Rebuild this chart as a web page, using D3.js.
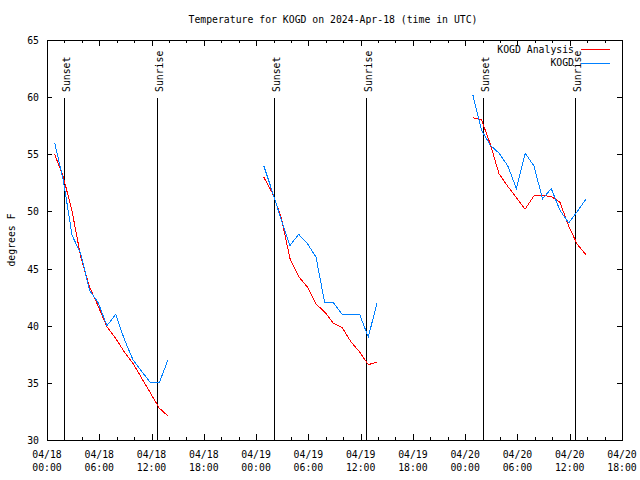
<!DOCTYPE html>
<html><head><meta charset="utf-8">
<script src="https://cdn.jsdelivr.net/npm/d3@7"></script>
<style>body{margin:0;background:#fff}svg{display:block}text{font-family:"DejaVu Sans Mono","Liberation Mono",monospace;font-size:9.8px;fill:#000}</style>
</head><body><svg id="c" width="640" height="480"></svg>
<script>
// hours since 04/18 00:00 UTC
const seg1Times = [0.88,1.88,2.88,3.88,4.88,5.88,6.88,7.88,8.88,9.88,10.88,11.88,12.88,13.88];
const seg2Times = [24.88,25.88,26.88,27.88,28.88,29.88,30.88,31.88,32.88,33.88,34.88,35.88,36.88,37.88];
const seg3Times = [48.88,49.88,50.88,51.88,52.88,53.88,54.88,55.88,56.88,57.88,58.88,59.88,60.88,61.88];
const analysis1 = [55.0,53.0,50.0,46.0,43.4,41.7,39.9,38.9,37.7,36.7,35.4,34.1,32.8,32.1];
const analysis2 = [53.0,51.6,49.5,45.9,44.3,43.4,41.9,41.2,40.2,39.85,38.6,37.7,36.6,36.8];
const analysis3 = [58.2,58.0,55.9,53.3,52.2,51.2,50.2,51.35,51.4,51.3,50.8,48.7,47.1,46.2];
const obs1 = [56.0,52.7,47.9,46.3,43.1,42.0,40.0,41.0,38.8,37.0,36.0,35.0,35.0,37.0];
const obs2 = [54.0,51.7,49.3,47.0,48.0,47.2,46.0,42.0,42.0,41.0,41.0,41.0,39.0,42.0];
const obs3 = [60.2,57.1,55.8,55.1,54.0,52.0,55.1,54.0,51.1,52.0,50.1,49.0,50.0,51.1];
const sunsetTimes = [1.95,26.05,50.07];
const sunriseTimes = [12.65,36.63,60.62];
const xTickHours = [0,6,12,18,24,30,36,42,48,54,60,66];
const xTickLabels = ["04/18\n00:00","04/18\n06:00","04/18\n12:00","04/18\n18:00","04/19\n00:00","04/19\n06:00","04/19\n12:00","04/19\n18:00","04/20\n00:00","04/20\n06:00","04/20\n12:00","04/20\n18:00"];
const yTicks = [30,35,40,45,50,55,60,65];
const titleText = "Temperature for KOGD on 2024-Apr-18 (time in UTC)";
const yLabel = "degrees F";
const seriesNames = ["KOGD Analysis","KOGD"];
const seriesColors = ["#ff0000","#0080ff"];

const L=47,R=622,T=40,B=440;
const svg=d3.select("#c");
const x=d3.scaleLinear().domain([0,66]).range([L,R]);
const y=d3.scaleLinear().domain([30,65]).range([B,T]);

// title & y label
svg.append("text").attr("x",333).attr("y",23).attr("text-anchor","middle").text(titleText);
svg.append("text").attr("transform","translate(15,240) rotate(-90)").attr("text-anchor","middle").text(yLabel);

// ticks
const g=svg.append("g").attr("stroke","#000").attr("stroke-width",1).attr("shape-rendering","crispEdges");
const minor=d3.range(0,67,2).filter(h=>h%6!==0);
xTickHours.forEach(h=>{const px=Math.round(x(h))+0.5;
  g.append("line").attr("x1",px).attr("x2",px).attr("y1",B).attr("y2",B-6);
  g.append("line").attr("x1",px).attr("x2",px).attr("y1",T).attr("y2",T+6);});
minor.forEach(h=>{const px=Math.round(x(h))+0.5;
  g.append("line").attr("x1",px).attr("x2",px).attr("y1",B).attr("y2",B-3);
  g.append("line").attr("x1",px).attr("x2",px).attr("y1",T).attr("y2",T+3);});
yTicks.forEach(v=>{const py=Math.round(y(v))+0.5;
  g.append("line").attr("x1",L).attr("x2",L+5).attr("y1",py).attr("y2",py);
  g.append("line").attr("x1",R).attr("x2",R-5).attr("y1",py).attr("y2",py);
  svg.append("text").attr("x",39).attr("y",py+3.5).attr("text-anchor","end").text(v);});
xTickHours.forEach((h,i)=>{const parts=xTickLabels[i].split("\n");
  const t=svg.append("text").attr("text-anchor","middle");
  t.append("tspan").attr("x",x(h)).attr("y",458).text(parts[0]);
  t.append("tspan").attr("x",x(h)).attr("y",471).text(parts[1]);});

// sun lines
const sun=[...sunsetTimes.map(t=>[t,"Sunset"]),...sunriseTimes.map(t=>[t,"Sunrise"])];
sun.forEach(([t,lab])=>{const px=Math.round(x(t))+0.5;
  g.append("line").attr("x1",px).attr("x2",px).attr("y1",B).attr("y2",y(60)+1);
  svg.append("text").attr("transform",`translate(${px+5.5},92) rotate(-90)`).attr("text-anchor","start").text(lab);});

// series
const line=d3.line().x(d=>x(d[0])).y(d=>y(d[1]));
const ana=[[seg1Times,analysis1],[seg2Times,analysis2],[seg3Times,analysis3]];
const obs=[[seg1Times,obs1],[seg2Times,obs2],[seg3Times,obs3]];
ana.forEach(([ts,vs])=>svg.append("path").attr("d",line(ts.map((t,i)=>[t,vs[i]]))).attr("shape-rendering","crispEdges").style("fill","none").style("stroke",seriesColors[0]).style("stroke-width","1px"));
obs.forEach(([ts,vs])=>svg.append("path").attr("d",line(ts.map((t,i)=>[t,vs[i]]))).attr("shape-rendering","crispEdges").style("fill","none").style("stroke",seriesColors[1]).style("stroke-width","1px"));

// border
svg.append("rect").attr("x",L+0.5).attr("y",T+0.5).attr("width",R-L).attr("height",B-T).style("fill","none").style("stroke","#000").attr("shape-rendering","crispEdges");

// legend
const lg=svg.append("g");
seriesNames.forEach((n,i)=>{const ly=49+i*13.5;
  lg.append("text").attr("x",574).attr("y",ly+3.5).attr("text-anchor","end").text(n);
  lg.append("rect").attr("x",581).attr("y",Math.round(ly)).attr("width",29).attr("height",1).style("fill",seriesColors[i]).style("stroke","none");});
</script></body></html>
